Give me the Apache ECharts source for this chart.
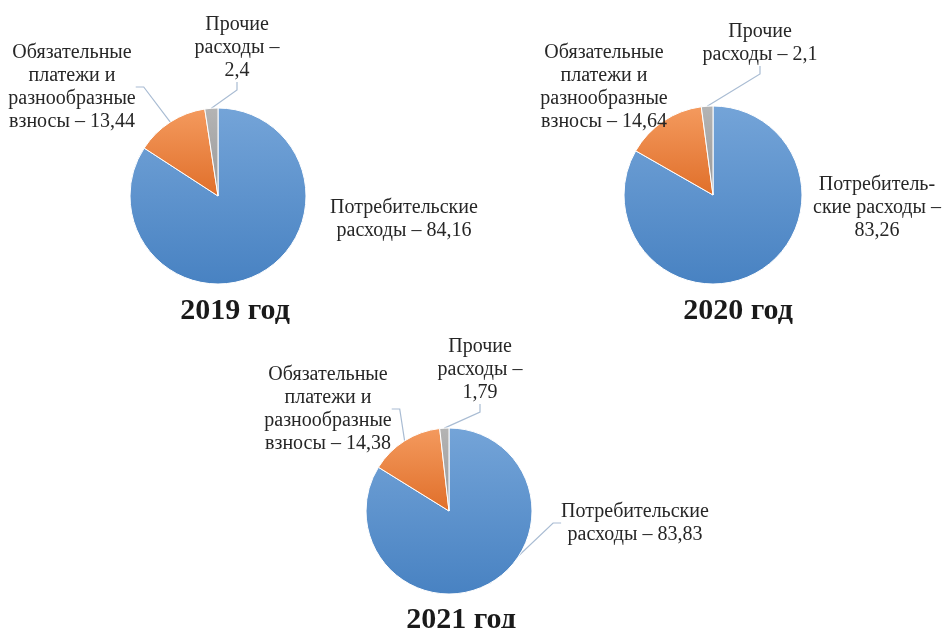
<!DOCTYPE html>
<html>
<head>
<meta charset="utf-8">
<script src="https://cdn.jsdelivr.net/npm/echarts@6/dist/echarts.min.js"></script>
<style>html,body{margin:0;padding:0;background:#fff;}#c{width:947px;height:628px;}</style>
</head>
<body>
<div id="c"></div>
<script>
// ---- data ----
const years = ['2019 год', '2020 год', '2021 год'];
const categories = ['Потребительские расходы', 'Обязательные платежи и разнообразные взносы', 'Прочие расходы'];
const values2019 = [84.16, 13.44, 2.4];
const values2020 = [83.26, 14.64, 2.1];
const values2021 = [83.83, 14.38, 1.79];
const labels2019 = ['Потребительские\nрасходы – {v}', 'Обязательные\nплатежи и\nразнообразные\nвзносы – {v}', 'Прочие\nрасходы –\n{v}'];
const labels2020 = ['Потребитель-\nские расходы –\n{v}', 'Обязательные\nплатежи и\nразнообразные\nвзносы – {v}', 'Прочие\nрасходы – {v}'];
const labels2021 = ['Потребительские\nрасходы – {v}', 'Обязательные\nплатежи и\nразнообразные\nвзносы – {v}', 'Прочие\nрасходы –\n{v}'];

// ---- layout / style ----
const allValues = [values2019, values2020, values2021];
const allLabels = [labels2019, labels2020, labels2021];
// wide virtual viewport so outside labels are never truncated
const VX = -400, VY = -200, VW = 947 + 800, VH = 628 + 400;
const centers = [[218, 196], [713, 195], [449, 511]];
const radii = [88, 89, 83];
const titlePos = [[230, 291], [733, 291], [456, 600]];
// label anchor (center x, top y) per series, per slice
const labelPos = [
  [[404, 196], [72, 41], [237, 13]],
  [[877, 173], [604, 41], [760, 20]],
  [[635, 500], [328, 363], [480, 335]]
];
const showLine = [
  [false, true, true],
  [false, false, true],
  [true, true, true]
];
const grad = (a, b) => ({type: 'linear', x: 0, y: 0, x2: 0, y2: 1, colorStops: [{offset: 0, color: a}, {offset: 1, color: b}]});
const colors = [grad('#74a4d8', '#4882c2'), grad('#f49a5e', '#e06f2a'), grad('#b4b4b4', '#999999')];
const fmt = v => String(v).replace('.', ',');

const series = allValues.map((vals, s) => ({
  type: 'pie',
  left: VX, top: VY, width: VW, height: VH,
  center: [centers[s][0] - VX, centers[s][1] - VY],
  radius: radii[s],
  startAngle: 90,
  clockwise: true,
  animation: false,
  silent: true,
  itemStyle: {borderColor: '#ffffff', borderWidth: 1},
  label: {
    show: true,
    fontFamily: 'Liberation Serif',
    fontSize: 20,
    lineHeight: 23,
    color: '#262626',
    align: 'center',
    overflow: 'none',
    formatter: p => allLabels[s][p.dataIndex].replace('{v}', fmt(p.value))
  },
  labelLine: {show: true, length: 10, length2: 8, lineStyle: {color: '#a9bcd3', width: 1.2}},
  labelLayout: p => ({
    x: labelPos[s][p.dataIndex][0],
    y: labelPos[s][p.dataIndex][1],
    align: 'center',
    verticalAlign: 'top',
    hideOverlap: false
  }),
  data: vals.map((v, i) => ({
    name: categories[i],
    value: v,
    itemStyle: {color: colors[i]},
    labelLine: {show: showLine[s][i]}
  }))
}));

const chart = echarts.init(document.getElementById('c'), null, {renderer: 'canvas'});
chart.setOption({
  backgroundColor: '#ffffff',
  title: years.map((t, i) => ({
    text: t,
    left: titlePos[i][0],
    top: titlePos[i][1],
    textAlign: 'center',
    textStyle: {fontFamily: 'Liberation Serif', fontSize: 30, fontWeight: 'bold', color: '#1a1a1a'}
  })),
  series: series
});
</script>
</body>
</html>
